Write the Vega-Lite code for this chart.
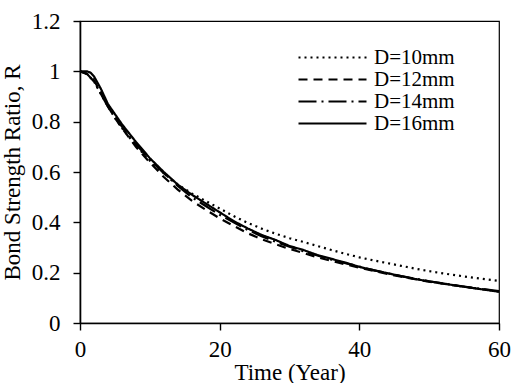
{
  "$schema": "https://vega.github.io/schema/vega-lite/v6.json",
  "autosize": "none",
  "width": 419,
  "height": 302,
  "padding": {"left": 80, "top": 21, "right": 13, "bottom": 60},
  "background": "white",
  "config": {
    "font": "Liberation Serif",
    "view": {"stroke": "black", "strokeWidth": 1.2},
    "axis": {"grid": false, "domainColor": "black", "domainWidth": 1.6, "tickColor": "black", "tickWidth": 1.4, "tickSize": 7, "labelColor": "black", "titleColor": "black", "labelFont": "Liberation Serif", "titleFont": "Liberation Serif", "labelFontSize": 23, "titleFontSize": 23, "titleFontWeight": "normal"}
  },
  "datasets": {
    "curves": [
      {"D": "D=10mm", "t": 0, "R": 1.0}, {"D": "D=10mm", "t": 1, "R": 0.99}, {"D": "D=10mm", "t": 2, "R": 0.96}, {"D": "D=10mm", "t": 3, "R": 0.91}, {"D": "D=10mm", "t": 4, "R": 0.86}, {"D": "D=10mm", "t": 5, "R": 0.815}, {"D": "D=10mm", "t": 6, "R": 0.775}, {"D": "D=10mm", "t": 8, "R": 0.705}, {"D": "D=10mm", "t": 10, "R": 0.645}, {"D": "D=10mm", "t": 12, "R": 0.595}, {"D": "D=10mm", "t": 14, "R": 0.55}, {"D": "D=10mm", "t": 16, "R": 0.515}, {"D": "D=10mm", "t": 18, "R": 0.485}, {"D": "D=10mm", "t": 20, "R": 0.455}, {"D": "D=10mm", "t": 22, "R": 0.425}, {"D": "D=10mm", "t": 24, "R": 0.398}, {"D": "D=10mm", "t": 26, "R": 0.375}, {"D": "D=10mm", "t": 28, "R": 0.355}, {"D": "D=10mm", "t": 30, "R": 0.337}, {"D": "D=10mm", "t": 32, "R": 0.322}, {"D": "D=10mm", "t": 34, "R": 0.306}, {"D": "D=10mm", "t": 36, "R": 0.29}, {"D": "D=10mm", "t": 38, "R": 0.275}, {"D": "D=10mm", "t": 40, "R": 0.261}, {"D": "D=10mm", "t": 42, "R": 0.249}, {"D": "D=10mm", "t": 44, "R": 0.238}, {"D": "D=10mm", "t": 46, "R": 0.227}, {"D": "D=10mm", "t": 48, "R": 0.216}, {"D": "D=10mm", "t": 50, "R": 0.206}, {"D": "D=10mm", "t": 52, "R": 0.197}, {"D": "D=10mm", "t": 54, "R": 0.189}, {"D": "D=10mm", "t": 56, "R": 0.181}, {"D": "D=10mm", "t": 58, "R": 0.174}, {"D": "D=10mm", "t": 60, "R": 0.167},
      {"D": "D=12mm", "t": 0, "R": 1.0}, {"D": "D=12mm", "t": 1, "R": 0.99}, {"D": "D=12mm", "t": 2, "R": 0.965}, {"D": "D=12mm", "t": 3, "R": 0.915}, {"D": "D=12mm", "t": 4, "R": 0.86}, {"D": "D=12mm", "t": 5, "R": 0.815}, {"D": "D=12mm", "t": 6, "R": 0.775}, {"D": "D=12mm", "t": 8, "R": 0.7}, {"D": "D=12mm", "t": 10, "R": 0.638}, {"D": "D=12mm", "t": 12, "R": 0.58}, {"D": "D=12mm", "t": 14, "R": 0.53}, {"D": "D=12mm", "t": 16, "R": 0.486}, {"D": "D=12mm", "t": 18, "R": 0.45}, {"D": "D=12mm", "t": 20, "R": 0.416}, {"D": "D=12mm", "t": 22, "R": 0.386}, {"D": "D=12mm", "t": 24, "R": 0.357}, {"D": "D=12mm", "t": 26, "R": 0.333}, {"D": "D=12mm", "t": 28, "R": 0.313}, {"D": "D=12mm", "t": 30, "R": 0.294}, {"D": "D=12mm", "t": 32, "R": 0.278}, {"D": "D=12mm", "t": 34, "R": 0.261}, {"D": "D=12mm", "t": 36, "R": 0.247}, {"D": "D=12mm", "t": 38, "R": 0.233}, {"D": "D=12mm", "t": 40, "R": 0.22}, {"D": "D=12mm", "t": 42, "R": 0.207}, {"D": "D=12mm", "t": 44, "R": 0.195}, {"D": "D=12mm", "t": 46, "R": 0.184}, {"D": "D=12mm", "t": 48, "R": 0.174}, {"D": "D=12mm", "t": 50, "R": 0.164}, {"D": "D=12mm", "t": 52, "R": 0.156}, {"D": "D=12mm", "t": 54, "R": 0.148}, {"D": "D=12mm", "t": 56, "R": 0.14}, {"D": "D=12mm", "t": 58, "R": 0.133}, {"D": "D=12mm", "t": 60, "R": 0.126},
      {"D": "D=14mm", "t": 0, "R": 1.0}, {"D": "D=14mm", "t": 1, "R": 0.99}, {"D": "D=14mm", "t": 2, "R": 0.96}, {"D": "D=14mm", "t": 3, "R": 0.91}, {"D": "D=14mm", "t": 4, "R": 0.86}, {"D": "D=14mm", "t": 5, "R": 0.82}, {"D": "D=14mm", "t": 6, "R": 0.78}, {"D": "D=14mm", "t": 8, "R": 0.71}, {"D": "D=14mm", "t": 10, "R": 0.65}, {"D": "D=14mm", "t": 12, "R": 0.595}, {"D": "D=14mm", "t": 14, "R": 0.545}, {"D": "D=14mm", "t": 16, "R": 0.5}, {"D": "D=14mm", "t": 18, "R": 0.465}, {"D": "D=14mm", "t": 20, "R": 0.43}, {"D": "D=14mm", "t": 22, "R": 0.4}, {"D": "D=14mm", "t": 24, "R": 0.37}, {"D": "D=14mm", "t": 26, "R": 0.345}, {"D": "D=14mm", "t": 28, "R": 0.323}, {"D": "D=14mm", "t": 30, "R": 0.303}, {"D": "D=14mm", "t": 32, "R": 0.285}, {"D": "D=14mm", "t": 34, "R": 0.268}, {"D": "D=14mm", "t": 36, "R": 0.252}, {"D": "D=14mm", "t": 38, "R": 0.238}, {"D": "D=14mm", "t": 40, "R": 0.224}, {"D": "D=14mm", "t": 42, "R": 0.21}, {"D": "D=14mm", "t": 44, "R": 0.198}, {"D": "D=14mm", "t": 46, "R": 0.186}, {"D": "D=14mm", "t": 48, "R": 0.176}, {"D": "D=14mm", "t": 50, "R": 0.166}, {"D": "D=14mm", "t": 52, "R": 0.157}, {"D": "D=14mm", "t": 54, "R": 0.149}, {"D": "D=14mm", "t": 56, "R": 0.141}, {"D": "D=14mm", "t": 58, "R": 0.134}, {"D": "D=14mm", "t": 60, "R": 0.127},
      {"D": "D=16mm", "t": 0, "R": 1.0}, {"D": "D=16mm", "t": 1, "R": 1.0}, {"D": "D=16mm", "t": 1.5, "R": 0.995}, {"D": "D=16mm", "t": 2, "R": 0.98}, {"D": "D=16mm", "t": 3, "R": 0.93}, {"D": "D=16mm", "t": 4, "R": 0.87}, {"D": "D=16mm", "t": 5, "R": 0.83}, {"D": "D=16mm", "t": 6, "R": 0.79}, {"D": "D=16mm", "t": 8, "R": 0.72}, {"D": "D=16mm", "t": 10, "R": 0.655}, {"D": "D=16mm", "t": 12, "R": 0.6}, {"D": "D=16mm", "t": 14, "R": 0.55}, {"D": "D=16mm", "t": 16, "R": 0.51}, {"D": "D=16mm", "t": 18, "R": 0.475}, {"D": "D=16mm", "t": 20, "R": 0.44}, {"D": "D=16mm", "t": 22, "R": 0.405}, {"D": "D=16mm", "t": 24, "R": 0.376}, {"D": "D=16mm", "t": 26, "R": 0.35}, {"D": "D=16mm", "t": 28, "R": 0.33}, {"D": "D=16mm", "t": 30, "R": 0.306}, {"D": "D=16mm", "t": 32, "R": 0.29}, {"D": "D=16mm", "t": 34, "R": 0.27}, {"D": "D=16mm", "t": 36, "R": 0.255}, {"D": "D=16mm", "t": 38, "R": 0.24}, {"D": "D=16mm", "t": 40, "R": 0.223}, {"D": "D=16mm", "t": 42, "R": 0.21}, {"D": "D=16mm", "t": 44, "R": 0.198}, {"D": "D=16mm", "t": 46, "R": 0.186}, {"D": "D=16mm", "t": 48, "R": 0.175}, {"D": "D=16mm", "t": 50, "R": 0.165}, {"D": "D=16mm", "t": 52, "R": 0.157}, {"D": "D=16mm", "t": 54, "R": 0.148}, {"D": "D=16mm", "t": 56, "R": 0.14}, {"D": "D=16mm", "t": 58, "R": 0.132}, {"D": "D=16mm", "t": 60, "R": 0.124}
    ]
  },
  "data": {"name": "curves"},
  "mark": {"type": "line", "color": "black", "strokeWidth": 2.2, "clip": true},
  "encoding": {
    "x": {"field": "t", "type": "quantitative", "scale": {"domain": [0, 60], "nice": false}, "axis": {"values": [0, 20, 40, 60], "title": "Time (Year)", "labelPadding": 8, "titleY": 56, "titleBaseline": "alphabetic", "labelFlush": false}},
    "y": {"field": "R", "type": "quantitative", "scale": {"domain": [0, 1.2], "nice": false}, "axis": {"values": [0, 0.2, 0.4, 0.6, 0.8, 1.0, 1.2], "format": ".1~f", "title": "Bond Strength Ratio, R", "labelPadding": 13, "titleX": -68, "titleY": 151, "titleBaseline": "middle", "titleAngle": -90, "labelFlush": false}},
    "strokeDash": {"field": "D", "type": "nominal", "scale": {"domain": ["D=10mm", "D=12mm", "D=14mm", "D=16mm"], "range": [[2, 4], [9, 6], [18, 5, 2, 5], [1, 0]]},
      "legend": {"title": null, "orient": "none", "legendX": 242, "legendY": 26, "padding": 0, "symbolType": "M-4,0H4", "symbolSize": 289, "symbolStrokeWidth": 2.2, "symbolStrokeColor": "black", "labelFont": "Liberation Serif", "labelFontSize": 21, "labelColor": "black", "labelOffset": 31, "rowPadding": 0}}
  }
}
